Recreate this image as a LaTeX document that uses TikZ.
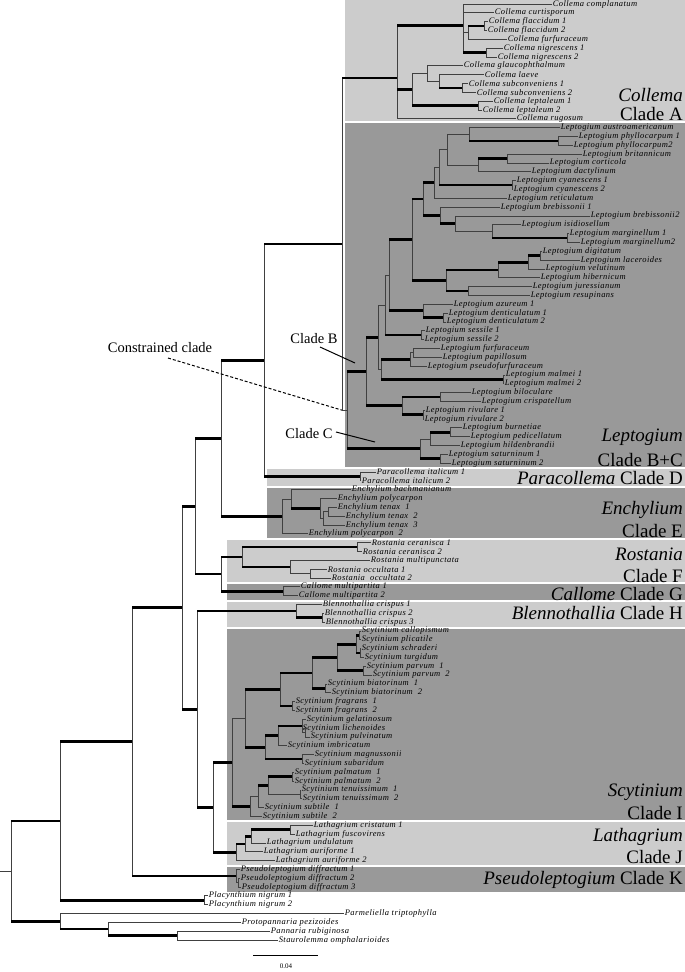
\documentclass[tikz,border=0pt]{standalone}
\usepackage{fontspec}
\setmainfont{Liberation Serif}
\newfontfamily\lblfont[LetterSpace=5]{Liberation Serif}
\usetikzlibrary{calc}
\definecolor{lgray}{gray}{0.80}
\definecolor{dgray}{gray}{0.60}
\tikzset{
 tb/.style={line width=2.7pt, black},
 tn/.style={line width=0.7pt, black!75},
 vl/.style={line width=0.7pt, black!75},
 lbl/.style={anchor=west, inner sep=0.6pt, font=\lblfont\fontsize{8.5}{9}\selectfont\itshape},
 big/.style={anchor=base east, inner sep=0pt, font=\fontsize{19}{20}\selectfont},
 ann/.style={inner sep=0pt, font=\fontsize{14.5}{15}\selectfont},
 pointer/.style={line width=1pt, black},
}
\newcommand{\lf}[3]{\coordinate (l#1) at (#2,{4+8.83*#1}); \node[lbl] (t#1) at (l#1) {#3};}
\newcommand{\tn}[6]{%
 \path let \p1=(#3), \p2=(#5) in ({#2pt},{0.5*(\y1)+0.5*(\y2)}) coordinate (#1);
 \draw[vl] (#1 |- #3) -- (#1 |- #5);
 \draw[#4] (#1 |- #3) -- (#3);
 \draw[#6] (#1 |- #5) -- (#5);}
\newcommand{\tnIII}[8]{%
 \path let \p1=(#3), \p2=(#5), \p3=(#7) in ({#2pt},{((\y1)+(\y2)+(\y3))/3}) coordinate (#1);
 \draw[vl] (#1 |- #3) -- (#1 |- #7);
 \draw[#4] (#1 |- #3) -- (#3);
 \draw[#6] (#1 |- #5) -- (#5);
 \draw[#8] (#1 |- #7) -- (#7);}
\newcommand{\tnIV}[9]{%
 \path let \p1=(#3), \p2=(#5), \p3=(#7), \p4=(#9) in ({#2pt},{((\y1)+(\y2)+(\y3)+(\y4))/4}) coordinate (#1);
 \draw[vl] (#1 |- #3) -- (#1 |- #9);
 \draw[#4] (#1 |- #3) -- (#3);
 \draw[#6] (#1 |- #5) -- (#5);
 \draw[#8] (#1 |- #7) -- (#7);
 \draw[tb] (#1 |- #9) -- (#9);}
\begin{document}
\begin{tikzpicture}[x=1pt,y=-1pt]
\useasboundingbox (0,0) rectangle (685,972);
\fill[white] (0,0) rectangle (685,972);
\coordinate (o) at (0,0);
% bands
\fill[lgray] (345,0) rectangle (685,121);
\fill[dgray] (345,123) rectangle (685,467);
\fill[lgray] (267,469) rectangle (685,486);
\fill[dgray] (267,488) rectangle (685,538);
\fill[lgray] (227,540) rectangle (685,582);
\fill[dgray] (227,584) rectangle (685,600);
\fill[lgray] (227,602) rectangle (685,627);
\fill[dgray] (227,629) rectangle (685,820);
\fill[lgray] (227,822) rectangle (685,865);
\fill[dgray] (227,867) rectangle (685,892);
% leaves
\lf{0}{552}{Collema complanatum}
\lf{1}{494}{Collema curtisporum}
\lf{2}{488}{Collema flaccidum 1}
\lf{3}{487}{Collema flaccidum 2}
\lf{4}{507}{Collema furfuraceum}
\lf{5}{503}{Collema nigrescens 1}
\lf{6}{497}{Collema nigrescens 2}
\lf{7}{463}{Collema glaucophthalmum}
\lf{8}{484}{Collema laeve}
\lf{9}{468}{Collema subconveniens 1}
\lf{10}{476}{Collema subconveniens 2}
\lf{11}{493}{Collema leptaleum 1}
\lf{12}{482}{Collema leptaleum 2}
\lf{13}{516}{Collema rugosum}
\lf{14}{560}{Leptogium austroamericanum}
\lf{15}{578}{Leptogium phyllocarpum 1}
\lf{16}{573}{Leptogium phyllocarpum2}
\lf{17}{582}{Leptogium britannicum}
\lf{18}{549}{Leptogium corticola}
\lf{19}{531}{Leptogium dactylinum}
\lf{20}{516}{Leptogium cyanescens 1}
\lf{21}{513}{Leptogium cyanescens 2}
\lf{22}{507}{Leptogium reticulatum}
\lf{23}{500}{Leptogium brebissonii 1}
\lf{24}{590}{Leptogium brebissonii2}
\lf{25}{521}{Leptogium isidiosellum}
\lf{26}{569}{Leptogium marginellum 1}
\lf{27}{580}{Leptogium marginellum2}
\lf{28}{542}{Leptogium digitatum}
\lf{29}{580}{Leptogium laceroides}
\lf{30}{545}{Leptogium velutinum}
\lf{31}{540}{Leptogium hibernicum}
\lf{32}{532}{Leptogium juressianum}
\lf{33}{530}{Leptogium resupinans}
\lf{34}{453}{Leptogium azureum 1}
\lf{35}{448}{Leptogium denticulatum 1}
\lf{36}{446}{Leptogium denticulatum 2}
\lf{37}{425}{Leptogium sessile 1}
\lf{38}{424}{Leptogium sessile 2}
\lf{39}{440}{Leptogium furfuraceum}
\lf{40}{442}{Leptogium papillosum}
\lf{41}{427}{Leptogium pseudofurfuraceum}
\lf{42}{505}{Leptogium malmei 1}
\lf{43}{504}{Leptogium malmei 2}
\lf{44}{471}{Leptogium biloculare}
\lf{45}{481}{Leptogium crispatellum}
\lf{46}{425}{Leptogium rivulare 1}
\lf{47}{424}{Leptogium rivulare 2}
\lf{48}{462}{Leptogium burnetiae}
\lf{49}{470}{Leptogium pedicellatum}
\lf{50}{460}{Leptogium hildenbrandii}
\lf{51}{448}{Leptogium saturninum 1}
\lf{52}{451}{Leptogium saturninum 2}
\lf{53}{376}{Paracollema italicum 1}
\lf{54}{361}{Paracollema italicum 2}
\lf{55}{351}{Enchylium bachmanianum}
\lf{56}{337}{Enchylium polycarpon}
\lf{57}{337}{Enchylium tenax\ \ 1}
\lf{58}{345}{Enchylium tenax\ \ 2}
\lf{59}{345}{Enchylium tenax\ \ 3}
\lf{60}{308}{Enchylium polycarpon\ \ 2}
\lf{61}{371}{Rostania ceranisca 1}
\lf{62}{362}{Rostania ceranisca 2}
\lf{63}{370}{Rostania multipunctata}
\lf{64}{327}{Rostania occultata 1}
\lf{65}{331}{Rostania\ \ occultata 2}
\lf{66}{300}{Callome multipartita 1}
\lf{67}{298}{Callome multipartita 2}
\lf{68}{322}{Blennothallia crispus 1}
\lf{69}{324}{Blennothallia crispus 2}
\lf{70}{325}{Blennothallia crispus 3}
\lf{71}{361}{Scytinium callopismum}
\lf{72}{361}{Scytinium plicatile}
\lf{73}{361}{Scytinium schraderi}
\lf{74}{364}{Scytinium turgidum}
\lf{75}{366}{Scytinium parvum\ \ 1}
\lf{76}{372}{Scytinium parvum\ \ 2}
\lf{77}{327}{Scytinium biatorinum\ \ 1}
\lf{78}{331}{Scytinium biatorinum\ \ 2}
\lf{79}{295}{Scytinium fragrans\ \ 1}
\lf{80}{295}{Scytinium fragrans\ \ 2}
\lf{81}{306}{Scytinium gelatinosum}
\lf{82}{302}{Scytinium lichenoides}
\lf{83}{310}{Scytinium pulvinatum}
\lf{84}{287}{Scytinium imbricatum}
\lf{85}{314}{Scytinium magnussonii}
\lf{86}{304}{Scytinium subaridum}
\lf{87}{294}{Scytinium palmatum\ \ 1}
\lf{88}{294}{Scytinium palmatum\ \ 2}
\lf{89}{301}{Scytinium tenuissimum\ \ 1}
\lf{90}{302}{Scytinium tenuissimum\ \ 2}
\lf{91}{264}{Scytinium subtile\ \ 1}
\lf{92}{262}{Scytinium subtile\ \ 2}
\lf{93}{313}{Lathagrium cristatum 1}
\lf{94}{295}{Lathagrium fuscovirens}
\lf{95}{266}{Lathagrium undulatum}
\lf{96}{263}{Lathagrium auriforme 1}
\lf{97}{275}{Lathagrium auriforme 2}
\lf{98}{240}{Pseudoleptogium diffractum 1}
\lf{99}{240}{Pseudoleptogium diffractum 2}
\lf{100}{241}{Pseudoleptogium diffractum 3}
\lf{101}{208}{Placynthium nigrum 1}
\lf{102}{208}{Placynthium nigrum 2}
\lf{103}{344}{Parmeliella triptophylla}
\lf{104}{241}{Protopannaria pezizoides}
\lf{105}{270}{Pannaria rubiginosa}
\lf{106}{278}{Staurolemma omphalarioides}
% Collema
\tn{FL}{484}{l2}{tn}{l3}{tn}
\tn{NGR}{486}{l5}{tn}{l6}{tn}
\tn{C2}{468}{FL}{tb}{l4}{tn}
\tnIV{C1}{463}{l0}{tn}{l1}{tn}{C2}{tn}{NGR}
\tn{SC}{462}{l9}{tn}{l10}{tn}
\tn{C5}{439}{l8}{tn}{SC}{tb}
\tn{C4}{427}{l7}{tn}{C5}{tn}
\tn{LT}{478}{l11}{tn}{l12}{tn}
\tn{C3}{412}{C4}{tn}{LT}{tb}
\tnIII{C0}{397}{C1}{tb}{C3}{tb}{l13}{tn}
% Leptogium
\tn{PH}{558}{l15}{tn}{l16}{tn}
\tn{AP}{469}{l14}{tn}{PH}{tb}
\tn{BC}{507}{l17}{tn}{l18}{tn}
\tn{BCD}{478}{BC}{tb}{l19}{tn}
\tn{NA}{447}{AP}{tn}{BCD}{tn}
\tn{CY}{512}{l20}{tn}{l21}{tn}
\tn{NB}{439}{NA}{tn}{CY}{tb}
\tn{NC}{434}{NB}{tn}{l22}{tn}
\tn{MG}{567}{l26}{tn}{l27}{tn}
\tn{ND}{492}{l25}{tn}{MG}{tb}
\tn{NE}{455}{l24}{tn}{ND}{tn}
\tn{BR}{440}{l23}{tn}{NE}{tb}
\tn{NF}{423}{NC}{tb}{BR}{tb}
\tn{DL}{540}{l28}{tn}{l29}{tn}
\tn{DLV}{528}{DL}{tb}{l30}{tn}
\tn{HIB}{498}{DLV}{tb}{l31}{tn}
\tn{JR}{468}{l32}{tn}{l33}{tn}
\tn{DJ}{446}{HIB}{tb}{JR}{tb}
\tn{NG}{412}{NF}{tb}{DJ}{tb}
\tn{DN}{443}{l35}{tn}{l36}{tn}
\tn{AG}{423}{l34}{tn}{DN}{tb}
\tn{NH}{389}{NG}{tb}{AG}{tb}
\tn{SS}{421}{l37}{tn}{l38}{tn}
\tn{NI}{385}{NH}{tn}{SS}{tb}
\tn{FP}{413}{l39}{tn}{l40}{tn}
\tn{FF}{410}{FP}{tn}{l41}{tn}
\tn{ML}{503}{l42}{tn}{l43}{tn}
\tn{FM}{381}{FF}{tb}{ML}{tb}
\tn{LBa}{378}{NI}{tn}{FM}{tn}
\tn{BQ}{440}{l44}{tn}{l45}{tn}
\tn{RV}{423}{l46}{tn}{l47}{tn}
\tn{LBb}{402}{BQ}{tb}{RV}{tb}
\tn{LB}{366}{LBa}{tb}{LBb}{tb}
\tn{BP}{450}{l48}{tn}{l49}{tn}
\tn{NJ}{430}{BP}{tb}{l50}{tn}
\tn{SAT}{440}{l51}{tn}{l52}{tn}
\tn{LC}{420}{NJ}{tn}{SAT}{tb}
\tn{L0}{347}{LB}{tb}{LC}{tb}
% backbone
\tn{PA}{360}{l53}{tn}{l54}{tn}
\tn{NK}{342}{C0}{tb}{L0}{tn}
\tn{NL}{264}{NK}{tb}{PA}{tb}
\tn{T12}{328}{l57}{tn}{l58}{tn}
\tn{E3}{323}{T12}{tn}{l59}{tn}
\tn{E2}{320}{l56}{tn}{E3}{tn}
\tn{E1}{291}{l55}{tn}{E2}{tb}
\tn{E0}{282}{E1}{tn}{l60}{tn}
\tn{NM}{221}{NL}{tb}{E0}{tb}
\tn{CE}{357}{l61}{tn}{l62}{tn}
\tn{OC}{310}{l64}{tn}{l65}{tn}
\tn{MO}{290}{l63}{tn}{OC}{tn}
\tn{R0}{242}{CE}{tb}{MO}{tb}
\tn{CA}{283}{l66}{tn}{l67}{tn}
\tn{RC}{221}{R0}{tb}{CA}{tb}
\tn{NN}{195}{NM}{tb}{RC}{tb}
\tn{BL1}{322}{l69}{tn}{l70}{tn}
\tn{BL0}{296}{l68}{tn}{BL1}{tb}
\tn{CP}{359}{l71}{tn}{l72}{tn}
\tn{ST}{360}{l73}{tn}{l74}{tn}
\tn{CPST}{356}{CP}{tb}{ST}{tb}
\tn{PV}{363}{l75}{tn}{l76}{tn}
\tn{S5}{337}{CPST}{tb}{PV}{tb}
\tn{BI}{325}{l77}{tn}{l78}{tn}
\tn{S4}{312}{S5}{tb}{BI}{tb}
\tn{FR}{292}{l79}{tn}{l80}{tn}
\tn{S2}{280}{S4}{tb}{FR}{tb}
\tn{LP}{305}{l82}{tn}{l83}{tn}
\tn{GLP}{302}{l81}{tn}{LP}{tn}
\tn{S6}{278}{GLP}{tb}{l84}{tn}
\tn{MS}{302}{l85}{tn}{l86}{tn}
\tn{S3}{265}{S6}{tb}{MS}{tb}
\tn{S1}{245}{S2}{tb}{S3}{tb}
\tn{PAL}{292}{l87}{tn}{l88}{tn}
\tn{TE}{300}{l89}{tn}{l90}{tn}
\tn{SPT2}{268}{PAL}{tb}{TE}{tn}
\tn{SPT}{258}{SPT2}{tb}{l91}{tn}
\tn{SP}{250}{SPT}{tn}{l92}{tn}
\tn{S0}{232}{S1}{tn}{SP}{tb}
\tn{CF}{290}{l93}{tn}{l94}{tn}
\tn{La2}{251}{CF}{tb}{l95}{tn}
\tn{La1}{245}{La2}{tb}{l96}{tn}
\tn{La0}{236}{La1}{tb}{l97}{tn}
\tn{NO}{213}{S0}{tb}{La0}{tb}
\tn{NP}{197}{BL0}{tb}{NO}{tb}
\tn{NQ}{182}{NN}{tb}{NP}{tb}
\tn{PS1}{238}{l99}{tn}{l100}{tn}
\tn{PS0}{236}{l98}{tn}{PS1}{tn}
\tn{NR}{132}{NQ}{tb}{PS0}{tb}
\tn{PL}{204}{l101}{tn}{l102}{tn}
\tn{NS}{60}{NR}{tb}{PL}{tb}
\tn{PSt}{177}{l105}{tn}{l106}{tn}
\tn{PP}{108}{l104}{tn}{PSt}{tb}
\tn{NT}{60}{l103}{tn}{PP}{tb}
\tn{RT}{11}{NS}{tb}{NT}{tb}
\coordinate (rs) at (RT -| o);
\draw[vl] (rs) -- (RT);
% clade labels
\node[big] (cA1) at (683,101) {\itshape Collema};
\node[big] (cA2) at (683,120) {Clade A};
\node[big] (cB1) at (683,441) {\itshape Leptogium};
\node[big] (cB2) at (683,466) {Clade B+C};
\node[big] (cD) at (683,484) {{\itshape Paracollema} Clade D};
\node[big] (cE1) at (683,514) {\itshape Enchylium};
\node[big] (cE2) at (683,537) {Clade E};
\node[big] (cF1) at (683,560) {\itshape Rostania};
\node[big] (cF2) at (683,582) {Clade F};
\node[big] (cG) at (683,600) {{\itshape Callome} Clade G};
\node[big] (cH) at (683,619) {{\itshape Blennothallia} Clade H};
\node[big] (cI1) at (683,796) {\itshape Scytinium};
\node[big] (cI2) at (683,819) {Clade I};
\node[big] (cJ1) at (683,841) {\itshape Lathagrium};
\node[big] (cJ2) at (683,863) {Clade J};
\node[big] (cK) at (683,884) {{\itshape Pseudoleptogium} Clade K};
% annotations
\node[ann] (cb) at (314,339) {Clade B};
\node[ann] (cc) at (309,434) {Clade C};
\node[ann] (cons) at (160,348) {Constrained clade};
\coordinate (cbs) at (320,347);
\coordinate (cbe) at (355,363);
\coordinate (ccs) at (336,432);
\coordinate (cce) at (375,442);
\coordinate (cons1) at (168,358);
\draw[pointer] (cbs) -- (cbe);
\draw[pointer] (ccs) -- (cce);
\draw[line width=1pt, densely dashed] (cons1) -- (NK |- L0);
% scale bar
\coordinate (sb1) at (253,955);
\coordinate (sb2) at (318,955);
\draw[line width=0.8pt] (sb1) -- (sb2);
\node[font=\fontsize{7}{8}\selectfont] (sbl) at (286,966) {0.04};
\end{tikzpicture}
\end{document}
